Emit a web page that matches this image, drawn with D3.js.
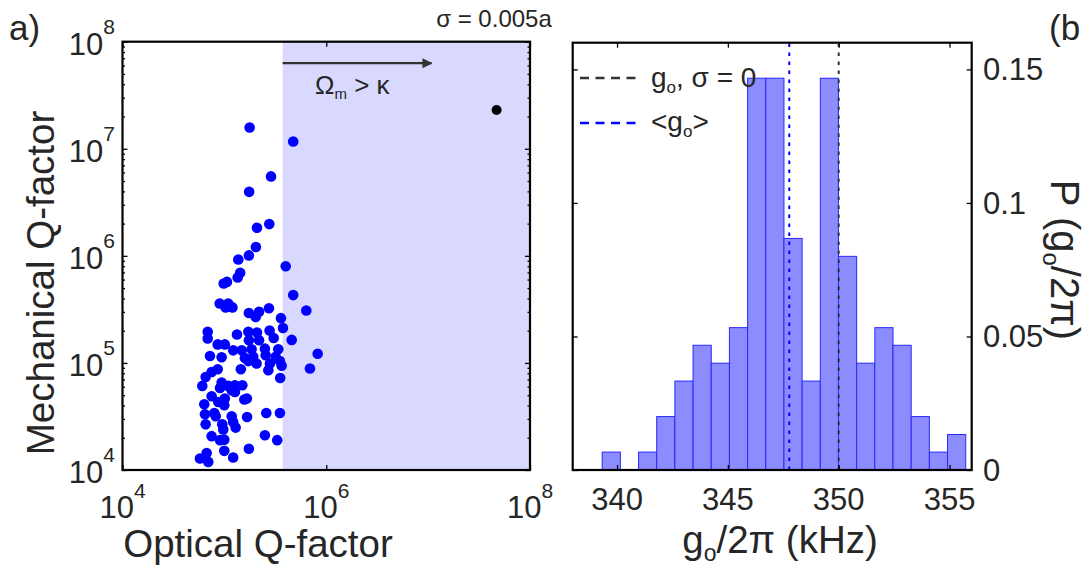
<!DOCTYPE html>
<html><head><meta charset="utf-8">
<script src="https://cdn.jsdelivr.net/npm/d3@7"></script>
<style>
body{margin:0;background:#fff}
svg{display:block}
text{font-family:"Liberation Sans",Arial,Helvetica,sans-serif;fill:#262626}
</style>
</head><body>
<svg id="fig" width="1090" height="569"></svg>
<script>
// ---- panel (a): optical vs mechanical Q of the disordered cavities (σ = 0.005a)
const opticalQ = [
  1.77e5,4.74e5,2.87e5,1.75e5,2.76e5,2.09e5,2.04e5,
  1.74e5,1.37e5,4.0e5,1.43e5,1.35e5,1.06e5,9.85e4,4.74e5,9.0e4,1.09e5,1.03e5,1.20e5,2.74e5,6.37e5,1.74e5,2.19e5,2.03e5,3.59e5,
  6.86e4,6.86e4,1.33e5,1.72e5,2.09e5,2.78e5,3.76e5,3.05e5,1.74e5,2.19e5,4.58e5,8.6e4,1.01e5,1.22e5,1.48e5,1.85e5,2.50e5,3.38e5,
  7.22e4,9.4e4,1.59e5,1.92e5,2.54e5,3.19e5,8.24e5,1.72e5,2.07e5,2.80e5,3.51e5,3.65e5,2.70e5,1.45e5,8.6e4,7.5e4,6.92e5,6.55e4,
  3.53e5,6.07e4,9.4e4,1.09e5,1.27e5,1.50e5,9.06e4,1.18e5,
  7.5e4,8.71e4,1.01e5,9.98e4,6.35e4,1.27e5,1.57e5,1.66e5,6.45e4,7.96e4,8.22e4,1.18e5,1.22e5,1.67e5,2.58e5,3.51e5,
  6.55e4,9.53e4,9.75e4,1.29e5,7.5e4,9.06e4,9.98e4,2.50e5,3.30e5,1.74e5,9.98e4,6.7e4,5.76e4,6.95e4,1.22e5
];
const mechanicalQ = [
  1.58e7,1.17e7,5.52e6,3.96e6,1.98e6,1.83e6,1.21e6,
  1.01e6,9.25e5,8.0e5,6.94e5,6.28e5,5.71e5,5.52e5,4.30e5,3.59e5,3.59e5,3.30e5,3.30e5,3.24e5,3.09e5,2.93e5,3.0e5,2.69e5,2.62e5,
  1.95e5,1.69e5,1.84e5,1.95e5,1.92e5,2.01e5,2.12e5,1.71e5,1.63e5,1.63e5,1.64e5,1.49e5,1.49e5,1.31e5,1.31e5,1.34e5,1.36e5,1.34e5,
  1.16e5,1.13e5,1.11e5,1.14e5,1.18e5,1.14e5,1.22e5,1.04e5,9.87e4,9.87e4,1.04e5,9.4e4,8.55e4,8.73e4,8.73e4,8.24e4,8.87e4,7.4e4,
  7.24e4,6.1e4,6.56e4,6.1e4,6.19e4,6.19e4,5.84e4,5.56e4,
  4.89e4,4.32e4,4.65e4,4.03e4,4.11e4,5.36e4,4.55e4,4.65e4,3.32e4,3.41e4,3.18e4,3.18e4,2.81e4,3.13e4,3.41e4,3.41e4,
  2.67e4,2.67e4,2.39e4,2.49e4,2.07e4,1.90e4,1.92e4,2.11e4,1.90e4,1.58e4,1.51e4,1.44e4,1.28e4,1.19e4,1.31e4
];
// ideal (σ = 0) cavity
const nominalOpticalQ = [4.7e7];
const nominalMechanicalQ = [2.3e7];
// optical Q above which Ω_m > κ (sideband-resolved)
const resolvedQ = 3.73e5;
const arrowEndQ = 1.08e7;
const arrowLevelQm = 6.3e7;
const qTicksX = [1e4, 1e6, 1e8];
const qTicksY = [1e4, 1e5, 1e6, 1e7, 1e8];

// ---- panel (b): distribution of g0/2π (kHz)
const gBinStart = 339.33;
const gBinWidth = 0.82;
const gProbability = [0.0067,0,0.0067,0.02,0.0333,0.0467,0.04,0.0533,0.1467,0.1467,
                      0.0867,0.0333,0.1467,0.08,0.04,0.0533,0.0467,0.02,0.0067,0.0133];
const g0Ideal = 350;
const g0Mean = 347.77;
const gTicksX = [340, 345, 350, 355];
const pTicksY = [0, 0.05, 0.1, 0.15];

const svg = d3.select("#fig");
svg.append("rect").attr("width",1090).attr("height",569).attr("fill","#fff");

const supLabel = (sel, base, exp, fsBase, fsExp, rise) => {
  sel.text(null);
  sel.append("tspan").style("font-size", fsBase+"px").text(base);
  sel.append("tspan").style("font-size", fsExp+"px").attr("dy", -rise).text(exp);
};

// ================= panel (a)
const A = {l:122.5, r:530, t:41.7, b:470};
const xQ = d3.scaleLog().domain([1e4,1e8]).range([A.l, A.r]);
const yQ = d3.scaleLog().domain([1e4,1e8]).range([A.b, A.t]);
const ga = svg.append("g");

ga.append("rect")
  .attr("x", xQ(resolvedQ)).attr("y", A.t)
  .attr("width", xQ(1e8) - xQ(resolvedQ)).attr("height", A.b - A.t)
  .attr("fill", "#d9d9ff");

ga.append("g").selectAll("circle")
  .data(opticalQ.map((q,i)=>[q, mechanicalQ[i]]))
  .join("circle")
  .attr("cx", d=>xQ(d[0])).attr("cy", d=>yQ(d[1])).attr("r", 5.3)
  .attr("fill", "#0000ff");

ga.append("g").selectAll("circle")
  .data(nominalOpticalQ.map((q,i)=>[q, nominalMechanicalQ[i]]))
  .join("circle")
  .attr("cx", d=>xQ(d[0])).attr("cy", d=>yQ(d[1])).attr("r", 5)
  .attr("fill", "#000");

// arrow marking the resolved-sideband region
svg.append("defs").append("marker")
  .attr("id","head").attr("viewBox","0 0 10 10").attr("refX",9).attr("refY",5)
  .attr("markerWidth",6).attr("markerHeight",4.6).attr("orient","auto")
  .attr("markerUnits","strokeWidth")
  .append("path").attr("d","M0,0 L10,5 L0,10 z").attr("fill","#333");
ga.append("line")
  .attr("x1", xQ(resolvedQ)).attr("x2", xQ(arrowEndQ))
  .attr("y1", yQ(arrowLevelQm)).attr("y2", yQ(arrowLevelQm))
  .attr("stroke","#333").attr("stroke-width",2.2).attr("marker-end","url(#head)");
const om = ga.append("text").attr("x", 315).attr("y", 94).style("font-size","26px");
om.append("tspan").text("Ω");
om.append("tspan").style("font-size","15px").attr("dy",5).text("m");
om.append("tspan").attr("dy",-5).text(" > κ");

// axes of panel (a)
const minorY = [];
for (let e=4; e<8; e++) for (let m=2; m<10; m++) minorY.push(m*Math.pow(10,e));

const bottomA = d3.axisBottom(xQ).tickValues(qTicksX);
const topA = d3.axisTop(xQ).tickValues(qTicksX);
const leftA = d3.axisLeft(yQ).tickValues(qTicksY);
const rightA = d3.axisRight(yQ).tickValues(qTicksY);
const leftAm = d3.axisLeft(yQ).tickValues(minorY);
const rightAm = d3.axisRight(yQ).tickValues(minorY);
[[bottomA,0,A.b,5],[topA,0,A.t,5],[leftA,A.l,0,5],[rightA,A.r,0,5],[leftAm,A.l,0,2.5],[rightAm,A.r,0,2.5]].forEach(([ax,tx,ty,len])=>{
  const g = ga.append("g").attr("transform",`translate(${tx},${ty})`)
    .call(ax.tickSize(-len).tickFormat(()=>""));
  g.select(".domain").remove();
  g.selectAll(".tick line").attr("stroke","#000").attr("stroke-width",1.3);
});
ga.append("rect").attr("x",A.l).attr("y",A.t).attr("width",A.r-A.l).attr("height",A.b-A.t)
  .attr("fill","none").attr("stroke","#000").attr("stroke-width",2.2);

// tick labels (powers of ten)
ga.append("g").selectAll("text").data(qTicksX).join("text")
  .attr("x", d=>xQ(d)).attr("y", 518).attr("text-anchor","middle").attr("fill","#000")
  .each(function(d){ supLabel(d3.select(this), "10", Math.round(Math.log10(d)), 31, 21, 20); });
ga.append("g").selectAll("text").data(qTicksY).join("text")
  .attr("x", 115).attr("y", d=>yQ(d)+13).attr("text-anchor","end").attr("fill","#000")
  .each(function(d){ supLabel(d3.select(this), "10", Math.round(Math.log10(d)), 31, 21, 21); });

svg.append("text").attr("x",258).attr("y",557).attr("text-anchor","middle")
  .style("font-size","38.5px").text("Optical Q-factor");
svg.append("text").attr("transform","translate(54,283) rotate(-90)").attr("text-anchor","middle")
  .style("font-size","38.5px").text("Mechanical Q-factor");

// ================= panel (b)
const B = {l:572.7, r:971.7, t:42.7, b:470};
const xG = d3.scaleLinear().domain([338,356]).range([B.l, B.r]);
const yP = d3.scaleLinear().domain([0,0.16]).range([B.b, B.t]);
const gb = svg.append("g");

gb.append("g").selectAll("rect").data(gProbability).join("rect")
  .attr("x", (d,i)=>xG(gBinStart + i*gBinWidth))
  .attr("width", (d,i)=>xG(gBinStart + (i+1)*gBinWidth) - xG(gBinStart + i*gBinWidth))
  .attr("y", d=>yP(d)).attr("height", d=>yP(0)-yP(d))
  .attr("fill","#8c8cff").attr("stroke","#2828ff").attr("stroke-width",1)
  .attr("display", d=> d>0 ? null : "none");

gb.append("line").attr("x1",xG(g0Mean)).attr("x2",xG(g0Mean)).attr("y1",yP(0)).attr("y2",B.t)
  .attr("stroke","#0000ff").attr("stroke-width",2).attr("stroke-dasharray","3.5,5.5");
gb.append("line").attr("x1",xG(g0Ideal)).attr("x2",xG(g0Ideal)).attr("y1",yP(0)).attr("y2",B.t)
  .attr("stroke","#333").attr("stroke-width",2).attr("stroke-dasharray","3.5,5.5");

const axB = [
  [d3.axisBottom(xG).tickValues(gTicksX),0,B.b],
  [d3.axisTop(xG).tickValues(gTicksX),0,B.t],
  [d3.axisLeft(yP).tickValues(pTicksY),B.l,0],
  [d3.axisRight(yP).tickValues(pTicksY),B.r,0]
];
axB.forEach(([ax,tx,ty])=>{
  const g = gb.append("g").attr("transform",`translate(${tx},${ty})`)
    .call(ax.tickSize(-5).tickFormat(()=>""));
  g.select(".domain").remove();
  g.selectAll(".tick line").attr("stroke","#000").attr("stroke-width",1.3);
});
gb.append("rect").attr("x",B.l).attr("y",B.t).attr("width",B.r-B.l).attr("height",B.b-B.t)
  .attr("fill","none").attr("stroke","#000").attr("stroke-width",2.2);

gb.append("g").selectAll("text").data(gTicksX).join("text")
  .attr("x", d=>xG(d)).attr("y", 510).attr("text-anchor","middle").attr("fill","#000")
  .style("font-size","31px").text(d=>d);
gb.append("g").selectAll("text").data(pTicksY).join("text")
  .attr("x", 983).attr("y", d=>yP(d)+11).attr("text-anchor","start").attr("fill","#000")
  .style("font-size","31px").text(d=>d);

// legend
const leg = gb.append("g");
leg.append("line").attr("x1",580).attr("x2",638).attr("y1",78).attr("y2",78)
  .attr("stroke","#333").attr("stroke-width",2.4).attr("stroke-dasharray","9,6.5");
leg.append("line").attr("x1",580).attr("x2",638).attr("y1",123).attr("y2",123)
  .attr("stroke","#0000ff").attr("stroke-width",2.4).attr("stroke-dasharray","9,6.5");
const l1 = leg.append("text").attr("x",651).attr("y",87).style("font-size","28px");
l1.append("tspan").text("g");
l1.append("tspan").style("font-size","17px").attr("dy",6).text("o");
l1.append("tspan").attr("dy",-6).text(", σ = 0");
const l2 = leg.append("text").attr("x",651).attr("y",131).style("font-size","28px");
l2.append("tspan").text("<g");
l2.append("tspan").style("font-size","17px").attr("dy",6).text("o");
l2.append("tspan").attr("dy",-6).text(">");

const xl = svg.append("text").attr("x",780).attr("y",553).attr("text-anchor","middle").style("font-size","38.5px");
xl.append("tspan").text("g");
xl.append("tspan").style("font-size","23px").attr("dy",8).text("o");
xl.append("tspan").attr("dy",-8).text("/2π (kHz)");

const yl = svg.append("text").attr("transform","translate(1051,260) rotate(90)").attr("text-anchor","middle").style("font-size","40px");
yl.append("tspan").text("P (g");
yl.append("tspan").style("font-size","24px").attr("dy",8).text("o");
yl.append("tspan").attr("dy",-8).text("/2π)");

// titles and panel letters
svg.append("text").attr("x",494).attr("y",27).attr("text-anchor","middle").style("font-size","24px").text("σ = 0.005a");
svg.append("text").attr("x",9).attr("y",40).style("font-size","35px").text("a)");
svg.append("text").attr("x",1049).attr("y",40).style("font-size","35px").text("(b");
</script>
</body></html>
